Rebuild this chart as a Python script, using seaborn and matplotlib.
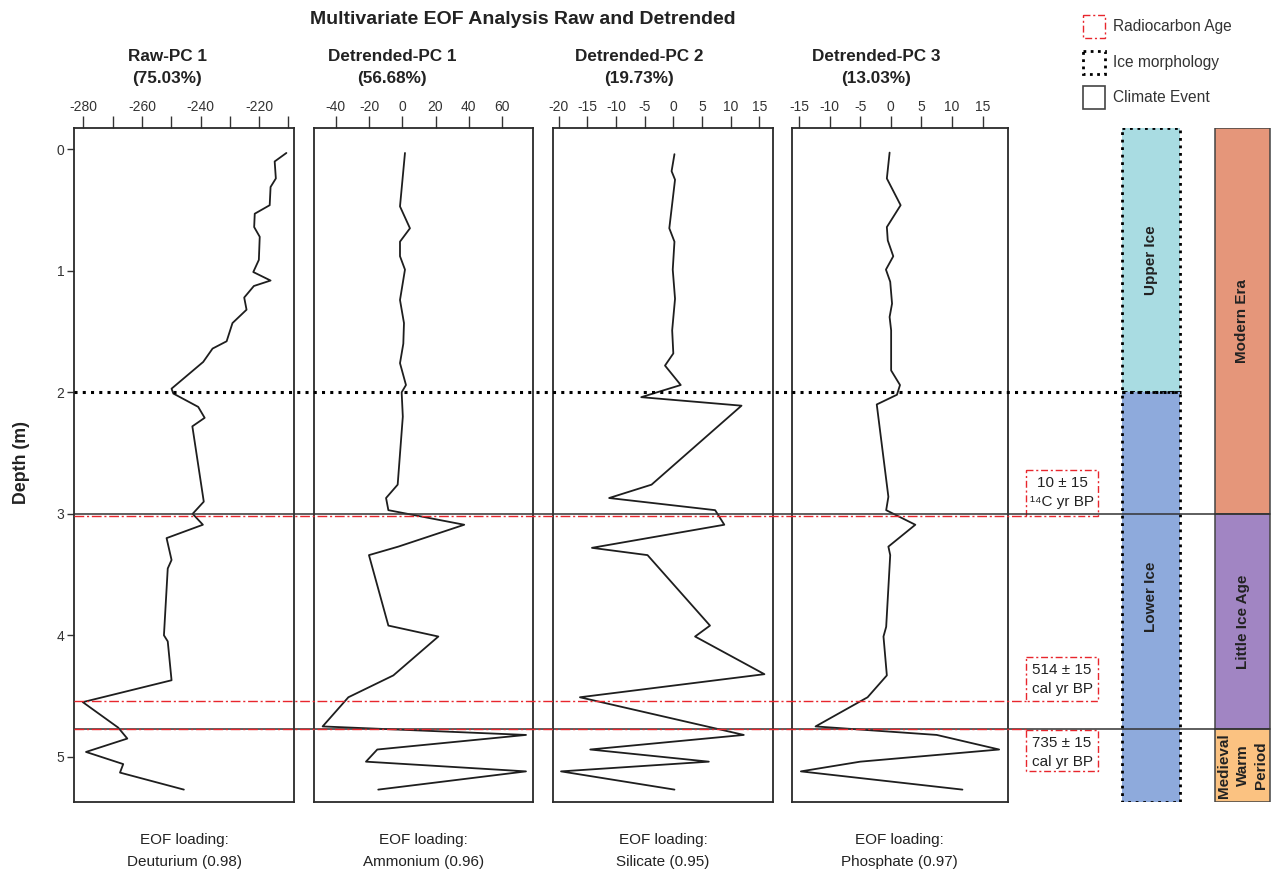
import matplotlib
matplotlib.use("Agg")
import matplotlib.pyplot as plt
from matplotlib.patches import Rectangle
import seaborn as sns

sns.set_theme(style="white")
plt.rcParams["font.family"] = ["Liberation Sans", "DejaVu Sans"]
plt.rcParams["axes.unicode_minus"] = False

# ---------------------------------------------------------------- data
raw_depth = [0.03, 0.10, 0.24, 0.31, 0.46, 0.53, 0.64, 0.72, 0.91, 1.01, 1.08, 1.125,
             1.22, 1.32, 1.43, 1.58, 1.64, 1.75, 1.97, 2.01, 2.12, 2.21, 2.28, 2.90,
             3.00, 3.09, 3.20, 3.38, 3.45, 4.00, 4.05, 4.37, 4.55, 4.76, 4.85, 4.96,
             5.06, 5.13, 5.27]
raw_pc1 = [-210.7, -214.7, -214.3, -216.1, -216.4, -221.5, -221.7, -219.8, -220.1,
           -222.0, -216.1, -221.8, -225.1, -224.3, -229.1, -231.1, -235.9, -239.1,
           -249.9, -249.3, -240.8, -238.6, -242.8, -238.9, -242.7, -239.2, -251.6,
           -249.9, -251.2, -252.5, -251.2, -249.9, -280.2, -268.1, -265.0, -279.1,
           -266.4, -267.5, -245.7]

det1_depth = [0.03, 0.47, 0.65, 0.76, 0.88, 0.99, 1.24, 1.43, 1.60, 1.76, 1.94, 2.00,
              2.20, 2.76, 2.87, 2.97, 3.09, 3.27, 3.34, 3.92, 4.01, 4.33, 4.51, 4.75,
              4.82, 4.94, 5.04, 5.12, 5.27]
det1_pc = [1.6, -1.4, 4.6, -1.4, -1.4, 1.6, -1.4, 1.0, 0.6, -1.4, 2.2, -0.4, 0.3, -2.8,
           -9.8, -8.4, 37.3, -2.4, -20.1, -8.4, 21.7, -5.4, -32.5, -48.0, 74.5, -15.1,
           -21.9, 74.5, -14.5]

det2_depth = [0.04, 0.18, 0.25, 0.65, 0.76, 0.99, 1.23, 1.49, 1.68, 1.78, 1.94, 2.04,
              2.11, 2.76, 2.87, 2.97, 3.09, 3.28, 3.34, 3.92, 4.01, 4.32, 4.51, 4.82,
              4.94, 5.04, 5.12, 5.27]
det2_pc = [0.2, -0.3, 0.3, -0.7, 0.2, -0.1, 0.3, -0.2, 0.0, -1.45, 1.3, -5.6, 11.9,
           -3.8, -11.2, 7.3, 8.9, -14.2, -4.5, 6.4, 3.8, 15.9, -16.3, 12.3, -14.5, 6.2,
           -19.6, 0.2]

det3_depth = [0.027, 0.24, 0.46, 0.64, 0.75, 0.88, 0.99, 1.09, 1.27, 1.38, 1.49, 1.82,
              1.94, 2.02, 2.10, 2.86, 2.97, 3.09, 3.27, 3.34, 3.93, 4.01, 4.33, 4.51,
              4.75, 4.82, 4.94, 5.04, 5.12, 5.27]
det3_pc = [-0.2, -0.65, 1.6, -0.65, -0.5, 0.4, -0.8, -0.1, 0.2, -0.2, 0.05, 0.05, 1.5,
           1.0, -2.3, -0.4, -0.76, 4.0, -0.4, -0.1, -0.76, -1.2, -0.65, -3.8, -12.3,
           7.5, 17.7, -5.0, -14.7, 11.7]

panel_titles = [("Raw-PC 1", "(75.03%)"), ("Detrended-PC 1", "(56.68%)"),
                ("Detrended-PC 2", "(19.73%)"), ("Detrended-PC 3", "(13.03%)")]
panel_loadings = ["Deuturium (0.98)", "Ammonium (0.96)", "Silicate (0.95)",
                  "Phosphate (0.97)"]
panel_ticks = [[-280, -260, -240, -220], [-40, -20, 0, 20, 40, 60],
               [-20, -15, -10, -5, 0, 5, 10, 15], [-15, -10, -5, 0, 5, 10, 15]]
raw_minor_ticks = [-270, -250, -230, -210]
depth_ticks = [0, 1, 2, 3, 4, 5]

ice_boundary = 2.0
ice_labels = ["Upper Ice", "Lower Ice"]
climate_boundaries = [3.0, 4.77]
climate_labels = ["Modern Era", "Little Ice Age", "Medieval\nWarm\nPeriod"]
radiocarbon_depths = [3.02, 4.54, 4.775]
radiocarbon_box_tops = [2.64, 4.18, 4.78]
radiocarbon_box_bottoms = [3.02, 4.54, 5.12]
radiocarbon_labels = [("10 ± 15", "¹⁴C yr BP"), ("514 ± 15", "cal yr BP"),
                      ("735 ± 15", "cal yr BP")]

# ---------------------------------------------------------------- layout
W, H = 1272, 875
TOP_PX, BOT_PX = 128.3, 802.0
DEPTH_TOP, DEPTH_BOT = -0.173, 5.372
panel_x = [(74, 294.3), (314, 533.3), (552.7, 773.3), (791.7, 1007.7)]
panel_xlims = [(-283.2, -208.0), (-53.2, 78.9), (-21.05, 17.45), (-16.2, 19.1)]
title_x = [167, 392, 639, 876]

INK = "#1e1e1e"
RED = "#e8262d"
TXT = "#222222"
fig = plt.figure(figsize=(W / 100, H / 100), dpi=100)


def rect(x0, x1):
    return [x0 / W, 1 - BOT_PX / H, (x1 - x0) / W, (BOT_PX - TOP_PX) / H]


# pixel-space layer for free text and the legend
px = fig.add_axes([0, 0, 1, 1], zorder=0)
px.set_xlim(0, W)
px.set_ylim(H, 0)
px.axis("off")

series = [(raw_pc1, raw_depth), (det1_pc, det1_depth), (det2_pc, det2_depth),
          (det3_pc, det3_depth)]

for i, ((vals, dep), (x0, x1)) in enumerate(zip(series, panel_x)):
    ax = fig.add_axes(rect(x0, x1), zorder=2)
    sns.lineplot(x=vals, y=dep, sort=False, estimator=None, color=INK,
                 linewidth=1.3, ax=ax)
    ax.set_xlim(*panel_xlims[i])
    ax.set_ylim(DEPTH_BOT, DEPTH_TOP)
    ax.set_xlabel("")
    ax.set_ylabel("")
    ax.xaxis.tick_top()
    ax.set_xticks(panel_ticks[i])
    ax.set_xticklabels([str(t) for t in panel_ticks[i]])
    if i == 0:
        ax.set_xticks(raw_minor_ticks, minor=True)
    ax.tick_params(axis="x", which="both", top=True, bottom=False, direction="out",
                   length=9, width=1.0, pad=1.5, labelsize=10, colors="#333333")
    if i == 0:
        ax.set_yticks(depth_ticks)
        ax.set_yticklabels([str(t) for t in depth_ticks])
        ax.tick_params(axis="y", left=True, direction="out", length=5, width=1.0,
                       pad=2, labelsize=10, colors="#333333")
    else:
        ax.set_yticks([])
    for s in ax.spines.values():
        s.set_color("#2a2a2a")
        s.set_linewidth(1.3)
    ax.patch.set_alpha(0)

    cx = (x0 + x1) / 2
    px.text(title_x[i], 56.5, panel_titles[i][0], ha="center", va="center",
            fontsize=12.3, fontweight="bold", color=TXT)
    px.text(title_x[i], 79, panel_titles[i][1], ha="center", va="center",
            fontsize=12.3, fontweight="bold", color=TXT)
    px.text(cx, 840, "EOF loading:", ha="center", va="center", fontsize=11,
            color=TXT)
    px.text(cx, 862, panel_loadings[i], ha="center", va="center", fontsize=11,
            color=TXT)

px.text(523, 20, "Multivariate EOF Analysis Raw and Detrended", ha="center",
        va="center", fontsize=14, fontweight="bold", color=TXT)
px.text(21, 462, "Depth (m)", ha="center", va="center", rotation=90,
        fontsize=12.8, fontweight="bold", color=TXT)

# legend
legend_items = [("Radiocarbon Age", dict(edgecolor=RED, linestyle=(0, (5, 2, 1.5, 2)), linewidth=1.0)),
                ("Ice morphology", dict(edgecolor="black", linestyle=(0, (1, 1.6)), linewidth=2.0)),
                ("Climate Event", dict(edgecolor="#444444", linestyle="-", linewidth=1.2))]
for k, (lab, style) in enumerate(legend_items):
    y0 = 15 + k * 35.5
    px.add_patch(Rectangle((1083, y0), 22, 23, facecolor="none", **style))
    px.text(1113, y0 + 11.5, lab, ha="left", va="center", fontsize=11.2,
            color="#333333")

# depth-space overlay for reference lines and stratigraphic columns
ov = fig.add_axes(rect(0, W), zorder=3)
ov.set_xlim(0, W)
ov.set_ylim(DEPTH_BOT, DEPTH_TOP)
ov.axis("off")
ov.patch.set_visible(False)

LEFT = panel_x[0][0]
ov.hlines(ice_boundary, LEFT, 1181, colors="black", linewidth=2.2,
          linestyles=[(0, (1, 1.7))])
ov.hlines(climate_boundaries, LEFT, 1270, colors="#333333", linewidth=1.1)
ov.hlines(radiocarbon_depths, LEFT, 1026, colors=RED, linewidth=1.0,
          linestyles=[(0, (7, 2, 1.5, 2))])

for top, bot, (l1, l2) in zip(radiocarbon_box_tops, radiocarbon_box_bottoms,
                              radiocarbon_labels):
    ov.add_patch(Rectangle((1026, top), 71.7, bot - top, facecolor="none",
                           edgecolor=RED, linewidth=1.0,
                           linestyle=(0, (5, 2, 1.5, 2))))
    ov.text(1062, top + 0.107, l1, ha="center", va="center", fontsize=11,
            color=TXT)
    ov.text(1062, top + 0.265, l2, ha="center", va="center", fontsize=11,
            color=TXT)

# ice morphology column
ice_spans = [(DEPTH_TOP, ice_boundary), (ice_boundary, DEPTH_BOT)]
ice_colors = ["#a9dce2", "#8eaadc"]
for (a, b), lab, col in zip(ice_spans, ice_labels, ice_colors):
    ov.add_patch(Rectangle((1122, a), 58, b - a, facecolor=col, edgecolor="none"))
    ov.add_patch(Rectangle((1122, a), 58, b - a, facecolor="none", edgecolor="black",
                           linewidth=2.0, linestyle=(0, (1, 1.7))))
    ov.text(1151, (a + b) / 2, lab, ha="center", va="center", rotation=90,
            fontsize=11, fontweight="bold", color=TXT)

# climate event column
clim_edges = [DEPTH_TOP] + climate_boundaries + [DEPTH_BOT]
clim_colors = ["#e5967a", "#a185c3", "#fbc281"]
for k, (lab, col) in enumerate(zip(climate_labels, clim_colors)):
    a, b = clim_edges[k], clim_edges[k + 1]
    box = Rectangle((1215, a), 55, b - a, facecolor=col, edgecolor="#444444",
                    linewidth=1.1)
    ov.add_patch(box)
    t = ov.text(1242.5, (a + b) / 2, lab, ha="center", va="center", rotation=90,
                fontsize=11, fontweight="bold", color=TXT, linespacing=1.45)
    t.set_clip_path(box)

fig.savefig("out.png", dpi=100)
